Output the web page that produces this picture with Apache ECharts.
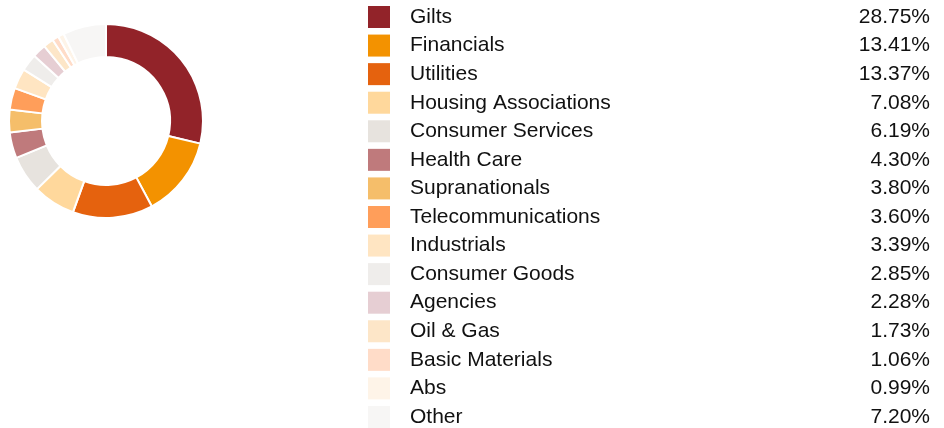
<!DOCTYPE html>
<html>
<head>
<meta charset="utf-8">
<script src="https://cdn.jsdelivr.net/npm/echarts@6/dist/echarts.min.js"></script>
<style>
  html, body { margin: 0; padding: 0; background: #fff; }
  #chart { width: 944px; height: 428px; }
</style>
</head>
<body>
<div id="chart"></div>
<script>
const sectors = ['Gilts', 'Financials', 'Utilities', 'Housing Associations', 'Consumer Services',
  'Health Care', 'Supranationals', 'Telecommunications', 'Industrials', 'Consumer Goods',
  'Agencies', 'Oil & Gas', 'Basic Materials', 'Abs', 'Other'];
const weights = [28.75, 13.41, 13.37, 7.08, 6.19, 4.30, 3.80, 3.60, 3.39, 2.85, 2.28, 1.73, 1.06, 0.99, 7.20];
const colors = ['#922329', '#F39200', '#E5620E', '#FFD89C', '#E7E3DE', '#BF7A7C', '#F5BE6A', '#FF9E5A',
  '#FFE5C2', '#EFEDEB', '#E6CED3', '#FDE6C8', '#FFDCC8', '#FEF4E8', '#F7F6F5'];

const chart = echarts.init(document.getElementById('chart'));

const lookup = {};
sectors.forEach((s, i) => { lookup[s] = weights[i]; });

chart.setOption({
  animation: false,
  color: colors,
  legend: {
    orient: 'vertical',
    left: 368,
    top: 6,
    height: 440,
    padding: 0,
    icon: 'rect',
    itemWidth: 22,
    itemHeight: 22,
    itemGap: 6.57,
    itemStyle: { borderWidth: 0 },
    selectedMode: false,
    data: sectors,
    formatter: name => '{n|' + name + '}{v|' + lookup[name].toFixed(2) + '%}',
    textStyle: {
      fontFamily: 'Liberation Sans, Arial, sans-serif',
      fontSize: 21,
      lineHeight: 22,
      color: '#111',
      rich: {
        n: { width: 436, padding: [0, 0, 0, 15], fontSize: 21, lineHeight: 22, color: '#111' },
        v: { width: 84, align: 'right', fontSize: 21, lineHeight: 22, color: '#111' }
      }
    }
  },
  series: [{
    type: 'pie',
    center: [106, 121],
    radius: [64, 97],
    startAngle: 90,
    clockwise: true,
    label: { show: false },
    labelLine: { show: false },
    emphasis: { disabled: true },
    itemStyle: { borderColor: '#fff', borderWidth: 2 },
    data: sectors.map((s, i) => ({ name: s, value: weights[i] }))
  }]
});
</script>
</body>
</html>
